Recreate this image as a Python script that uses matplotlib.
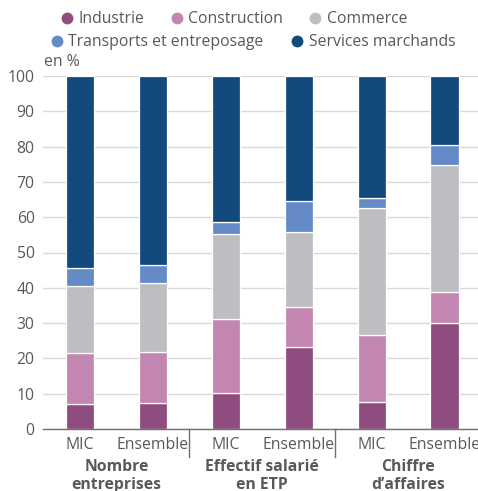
import matplotlib
matplotlib.use("Agg")
import matplotlib.pyplot as plt
from matplotlib.lines import Line2D
import matplotlib.transforms as mtransforms
import numpy as np

plt.rcParams['font.family'] = ['Open Sans', 'DejaVu Sans']

bar_labels = ["MIC", "Ensemble", "MIC", "Ensemble", "MIC", "Ensemble"]
group_labels = ["Nombre\nentreprises", "Effectif salarié\nen ETP", "Chiffre\nd\u2019affaires"]
series_names = ["Industrie", "Construction", "Commerce", "Transports et entreposage", "Services marchands"]

industrie = [7.0, 7.4, 10.1, 23.2, 7.7, 30.1]
construction = [14.4, 14.5, 21.1, 11.5, 18.8, 8.8]
commerce = [19.1, 19.4, 24.0, 21.0, 36.0, 35.8]
transports = [5.0, 5.2, 3.3, 8.8, 2.9, 5.7]
services = [54.5, 53.5, 41.5, 35.5, 34.6, 19.6]

colors = ["#8F4C7E", "#C386B0", "#BDBEC1", "#648BC8", "#134A7D"]
text_color = "#595959"

fig = plt.figure(figsize=(4.78, 4.91), dpi=100)
ax = fig.add_axes([43/478, 1-429/491, 1-43/478, (429-76)/491])

x = np.arange(len(bar_labels))
bottom = np.zeros(len(bar_labels))
for vals, col in zip([industrie, construction, commerce, transports, services], colors):
    ax.bar(x, vals, bottom=bottom, width=0.385, color=col, edgecolor="white", linewidth=0.9, zorder=3)
    bottom += np.array(vals)

ax.set_ylim(0, 100)
ax.set_xlim(-0.508, 5.46)
ax.set_yticks(np.arange(0, 101, 10))
ax.yaxis.grid(True, color="#D9D9D9", linewidth=1.0, zorder=0)
ax.set_axisbelow(True)
for s in ["top", "right", "left"]:
    ax.spines[s].set_visible(False)
ax.spines["bottom"].set_color("#707070")
ax.spines["bottom"].set_linewidth(1.0)
ax.spines["bottom"].set_zorder(4)
ax.tick_params(axis="both", length=0, labelsize=11.3, labelcolor=text_color)
ax.tick_params(axis="y", pad=6)
ax.tick_params(axis="x", pad=6)
ax.set_xticks(x)
ax.set_xticklabels(bar_labels)

# separators between groups
trans = mtransforms.blended_transform_factory(ax.transData, ax.transAxes)
for sx in [1.5, 3.5]:
    ax.add_line(Line2D([sx, sx], [0, -(457-429)/353], transform=trans, color="#707070",
                       linewidth=1.0, clip_on=False))

# group labels
for i, gl in enumerate(group_labels):
    ax.text(2*i + 0.5, -(459-429)/353, gl, transform=trans, ha="center", va="top",
            fontsize=11.3, fontweight="bold", color=text_color, linespacing=1.2)

# unit label
fig.text(44/478, 1-62/491, "en %", fontsize=11.3, color=text_color, va="center", ha="left")

# legends
handles = [Line2D([], [], marker="o", linestyle="none", markersize=7.5,
                  markerfacecolor=c, markeredgecolor=c) for c in colors]
common = dict(frameon=False, fontsize=11.3, handlelength=0.8, handletextpad=0.35,
              borderpad=0, borderaxespad=0, labelcolor=text_color)
leg1 = fig.legend(handles[:3], series_names[:3], ncol=3, loc="center",
                  bbox_to_anchor=(234/478, 1-19/491), columnspacing=1.65, **common)
leg2 = fig.legend(handles[3:], series_names[3:], ncol=2, loc="center",
                  bbox_to_anchor=(253/478, 1-42/491), columnspacing=1.75, **common)

fig.savefig("out.png", dpi=100)
